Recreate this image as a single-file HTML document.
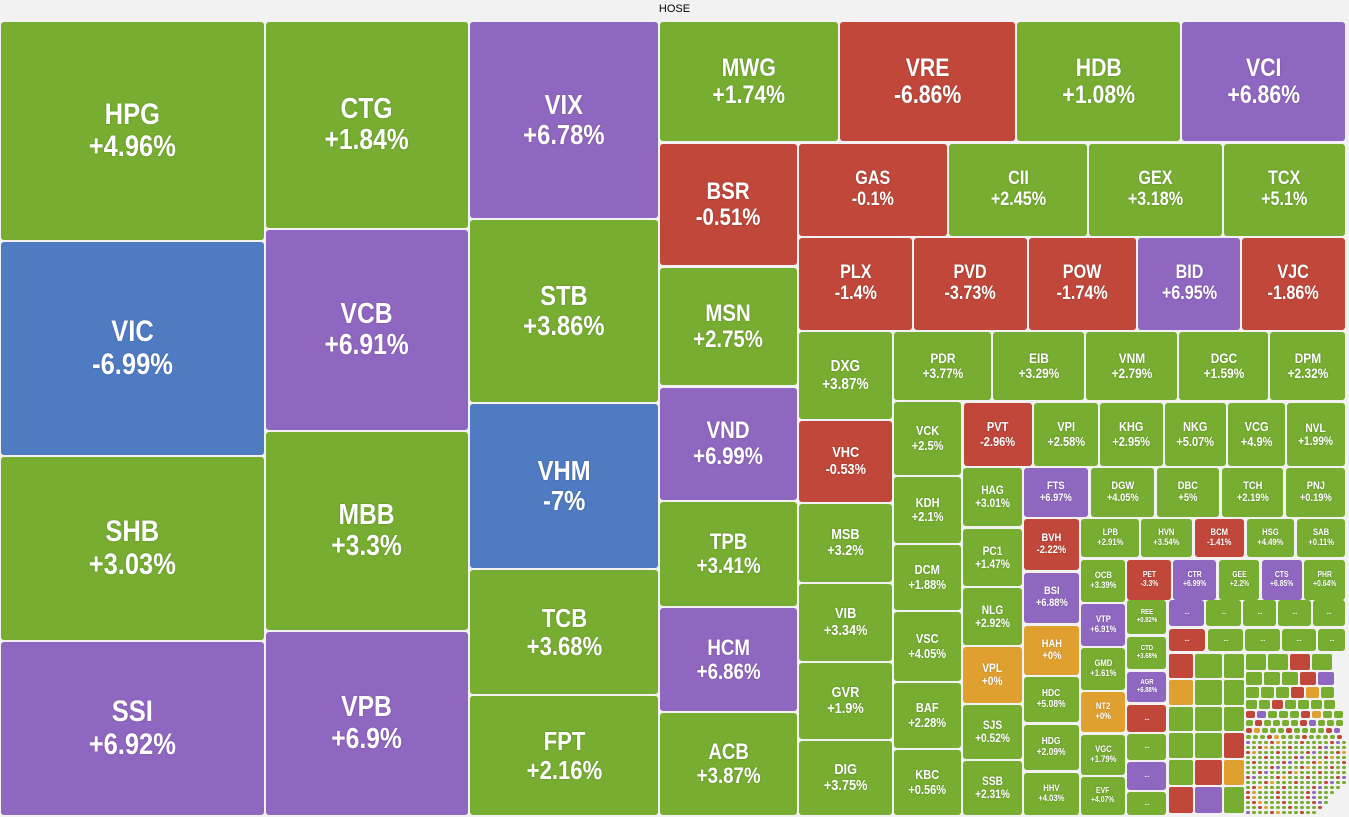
<!DOCTYPE html>
<html><head><meta charset="utf-8"><style>
body{margin:0;width:1349px;height:817px;background:#f2f2f2;position:relative;overflow:hidden;font-family:"Liberation Sans",Arial,sans-serif}
.h{position:absolute;left:0;top:3px;width:1349px;text-align:center;font-size:11px;color:#000}
.t{position:absolute;box-sizing:border-box;border-radius:3px;display:flex;align-items:center;justify-content:center;text-align:center;color:#fff;font-weight:bold;line-height:1.08;text-shadow:0 0 2px rgba(0,0,0,.25)}
.t span{display:inline-block;transform:scaleX(0.85);white-space:nowrap}
.g{background:#77ad31}.p{background:#9067c0}.r{background:#c0473a}.b{background:#4f7bc2}.o{background:#e0a030}
</style></head><body>
<div class="h">HOSE</div>
<div class="t g" style="left:1px;top:22px;width:263px;height:218px;font-size:30px">HPG<br>+4.96%</div>
<div class="t b" style="left:1px;top:242px;width:263px;height:213px;font-size:30px">VIC<br>-6.99%</div>
<div class="t g" style="left:1px;top:457px;width:263px;height:183px;font-size:30px">SHB<br>+3.03%</div>
<div class="t p" style="left:1px;top:642px;width:263px;height:173px;font-size:30px">SSI<br>+6.92%</div>
<div class="t g" style="left:266px;top:22px;width:202px;height:206px;font-size:29px">CTG<br>+1.84%</div>
<div class="t p" style="left:266px;top:230px;width:202px;height:200px;font-size:29px">VCB<br>+6.91%</div>
<div class="t g" style="left:266px;top:432px;width:202px;height:198px;font-size:29px">MBB<br>+3.3%</div>
<div class="t p" style="left:266px;top:632px;width:202px;height:183px;font-size:29px">VPB<br>+6.9%</div>
<div class="t p" style="left:470px;top:22px;width:188px;height:196px;font-size:28px">VIX<br>+6.78%</div>
<div class="t g" style="left:470px;top:220px;width:188px;height:182px;font-size:28px">STB<br>+3.86%</div>
<div class="t b" style="left:470px;top:404px;width:188px;height:164px;font-size:28px">VHM<br>-7%</div>
<div class="t g" style="left:470px;top:570px;width:188px;height:124px;font-size:26px">TCB<br>+3.68%</div>
<div class="t g" style="left:470px;top:696px;width:188px;height:119px;font-size:26px">FPT<br>+2.16%</div>
<div class="t g" style="left:660px;top:22px;width:178px;height:119px;font-size:25px">MWG<br>+1.74%</div>
<div class="t r" style="left:840px;top:22px;width:175px;height:119px;font-size:25px">VRE<br>-6.86%</div>
<div class="t g" style="left:1017px;top:22px;width:163px;height:119px;font-size:25px">HDB<br>+1.08%</div>
<div class="t p" style="left:1182px;top:22px;width:163px;height:119px;font-size:25px">VCI<br>+6.86%</div>
<div class="t r" style="left:660px;top:144px;width:137px;height:121px;font-size:24px">BSR<br>-0.51%</div>
<div class="t g" style="left:660px;top:268px;width:137px;height:117px;font-size:24px">MSN<br>+2.75%</div>
<div class="t p" style="left:660px;top:388px;width:137px;height:112px;font-size:24px">VND<br>+6.99%</div>
<div class="t g" style="left:660px;top:502px;width:137px;height:104px;font-size:22px">TPB<br>+3.41%</div>
<div class="t p" style="left:660px;top:608px;width:137px;height:103px;font-size:22px">HCM<br>+6.86%</div>
<div class="t g" style="left:660px;top:713px;width:137px;height:102px;font-size:22px">ACB<br>+3.87%</div>
<div class="t r" style="left:799px;top:144px;width:148px;height:92px;font-size:19px">GAS<br>-0.1%</div>
<div class="t g" style="left:949px;top:144px;width:138px;height:92px;font-size:19px">CII<br>+2.45%</div>
<div class="t g" style="left:1089px;top:144px;width:133px;height:92px;font-size:19px">GEX<br>+3.18%</div>
<div class="t g" style="left:1224px;top:144px;width:121px;height:92px;font-size:19px">TCX<br>+5.1%</div>
<div class="t r" style="left:799px;top:238px;width:113px;height:92px;font-size:19px">PLX<br>-1.4%</div>
<div class="t r" style="left:914px;top:238px;width:113px;height:92px;font-size:19px">PVD<br>-3.73%</div>
<div class="t r" style="left:1029px;top:238px;width:107px;height:92px;font-size:19px">POW<br>-1.74%</div>
<div class="t p" style="left:1138px;top:238px;width:102px;height:92px;font-size:19px">BID<br>+6.95%</div>
<div class="t r" style="left:1242px;top:238px;width:103px;height:92px;font-size:19px">VJC<br>-1.86%</div>
<div class="t g" style="left:799px;top:332px;width:93px;height:87px;font-size:16px">DXG<br>+3.87%</div>
<div class="t r" style="left:799px;top:421px;width:93px;height:81px;font-size:15px">VHC<br>-0.53%</div>
<div class="t g" style="left:799px;top:504px;width:93px;height:78px;font-size:15px">MSB<br>+3.2%</div>
<div class="t g" style="left:799px;top:584px;width:93px;height:77px;font-size:15px">VIB<br>+3.34%</div>
<div class="t g" style="left:799px;top:663px;width:93px;height:76px;font-size:15px">GVR<br>+1.9%</div>
<div class="t g" style="left:799px;top:741px;width:93px;height:74px;font-size:15px">DIG<br>+3.75%</div>
<div class="t g" style="left:894px;top:332px;width:97px;height:68px;font-size:14px">PDR<br>+3.77%</div>
<div class="t g" style="left:993px;top:332px;width:91px;height:68px;font-size:14px">EIB<br>+3.29%</div>
<div class="t g" style="left:1086px;top:332px;width:91px;height:68px;font-size:14px">VNM<br>+2.79%</div>
<div class="t g" style="left:1179px;top:332px;width:89px;height:68px;font-size:14px">DGC<br>+1.59%</div>
<div class="t g" style="left:1270px;top:332px;width:75px;height:68px;font-size:14px">DPM<br>+2.32%</div>
<div class="t g" style="left:894px;top:402px;width:67px;height:73px;font-size:13px">VCK<br>+2.5%</div>
<div class="t g" style="left:894px;top:477px;width:67px;height:66px;font-size:13px">KDH<br>+2.1%</div>
<div class="t g" style="left:894px;top:545px;width:67px;height:65px;font-size:13px">DCM<br>+1.88%</div>
<div class="t g" style="left:894px;top:612px;width:67px;height:69px;font-size:13px">VSC<br>+4.05%</div>
<div class="t g" style="left:894px;top:683px;width:67px;height:65px;font-size:13px">BAF<br>+2.28%</div>
<div class="t g" style="left:894px;top:750px;width:67px;height:65px;font-size:13px">KBC<br>+0.56%</div>
<div class="t r" style="left:964px;top:403px;width:68px;height:63px;font-size:13px">PVT<br>-2.96%</div>
<div class="t g" style="left:1034px;top:403px;width:64px;height:63px;font-size:13px">VPI<br>+2.58%</div>
<div class="t g" style="left:1100px;top:403px;width:63px;height:63px;font-size:13px">KHG<br>+2.95%</div>
<div class="t g" style="left:1165px;top:403px;width:61px;height:63px;font-size:13px">NKG<br>+5.07%</div>
<div class="t g" style="left:1228px;top:403px;width:57px;height:63px;font-size:13px">VCG<br>+4.9%</div>
<div class="t g" style="left:1287px;top:403px;width:58px;height:63px;font-size:12px">NVL<br>+1.99%</div>
<div class="t g" style="left:963px;top:468px;width:59px;height:58px;font-size:12px">HAG<br>+3.01%</div>
<div class="t g" style="left:963px;top:529px;width:59px;height:57px;font-size:12px">PC1<br>+1.47%</div>
<div class="t g" style="left:963px;top:588px;width:59px;height:57px;font-size:12px">NLG<br>+2.92%</div>
<div class="t o" style="left:963px;top:647px;width:59px;height:56px;font-size:12px">VPL<br>+0%</div>
<div class="t g" style="left:963px;top:705px;width:59px;height:54px;font-size:12px">SJS<br>+0.52%</div>
<div class="t g" style="left:963px;top:761px;width:59px;height:54px;font-size:12px">SSB<br>+2.31%</div>
<div class="t p" style="left:1024px;top:468px;width:64px;height:49px;font-size:11px">FTS<br>+6.97%</div>
<div class="t g" style="left:1091px;top:468px;width:63px;height:49px;font-size:11px">DGW<br>+4.05%</div>
<div class="t g" style="left:1157px;top:468px;width:62px;height:49px;font-size:11px">DBC<br>+5%</div>
<div class="t g" style="left:1222px;top:468px;width:61px;height:49px;font-size:11px">TCH<br>+2.19%</div>
<div class="t g" style="left:1286px;top:468px;width:59px;height:49px;font-size:11px">PNJ<br>+0.19%</div>
<div class="t r" style="left:1024px;top:519px;width:55px;height:51px;font-size:11px">BVH<br>-2.22%</div>
<div class="t p" style="left:1024px;top:573px;width:55px;height:50px;font-size:11px">BSI<br>+6.88%</div>
<div class="t o" style="left:1024px;top:626px;width:55px;height:49px;font-size:11px">HAH<br>+0%</div>
<div class="t g" style="left:1024px;top:677px;width:55px;height:45px;font-size:10px">HDC<br>+5.08%</div>
<div class="t g" style="left:1024px;top:725px;width:55px;height:45px;font-size:10px">HDG<br>+2.09%</div>
<div class="t g" style="left:1024px;top:773px;width:55px;height:42px;font-size:9px">HHV<br>+4.03%</div>
<div class="t g" style="left:1081px;top:519px;width:58px;height:38px;font-size:9px">LPB<br>+2.91%</div>
<div class="t g" style="left:1141px;top:519px;width:51px;height:38px;font-size:9px">HVN<br>+3.54%</div>
<div class="t r" style="left:1195px;top:519px;width:49px;height:38px;font-size:9px">BCM<br>-1.41%</div>
<div class="t g" style="left:1247px;top:519px;width:47px;height:38px;font-size:9px">HSG<br>+4.49%</div>
<div class="t g" style="left:1297px;top:519px;width:48px;height:38px;font-size:9px">SAB<br>+0.11%</div>
<div class="t g" style="left:1081px;top:560px;width:44px;height:42px;font-size:9px">OCB<br>+3.39%</div>
<div class="t p" style="left:1081px;top:604px;width:44px;height:42px;font-size:9px">VTP<br>+6.91%</div>
<div class="t g" style="left:1081px;top:648px;width:44px;height:42px;font-size:9px">GMD<br>+1.61%</div>
<div class="t o" style="left:1081px;top:692px;width:44px;height:40px;font-size:9px">NT2<br>+0%</div>
<div class="t g" style="left:1081px;top:735px;width:44px;height:40px;font-size:9px">VGC<br>+1.79%</div>
<div class="t g" style="left:1081px;top:777px;width:44px;height:38px;font-size:8px">EVF<br>+4.07%</div>
<div class="t r" style="left:1127px;top:560px;width:44px;height:40px;font-size:8px">PET<br>-3.3%</div>
<div class="t p" style="left:1173px;top:560px;width:43px;height:40px;font-size:8px">CTR<br>+6.99%</div>
<div class="t g" style="left:1219px;top:560px;width:40px;height:40px;font-size:8px">GEE<br>+2.2%</div>
<div class="t p" style="left:1262px;top:560px;width:40px;height:40px;font-size:8px">CTS<br>+6.85%</div>
<div class="t g" style="left:1304px;top:560px;width:41px;height:40px;font-size:8px">PHR<br>+0.64%</div>
<div class="t g" style="left:1127px;top:600px;width:39px;height:34px;font-size:7px">REE<br>+0.82%</div>
<div class="t g" style="left:1127px;top:637px;width:39px;height:32px;font-size:7px">CTD<br>+3.68%</div>
<div class="t p" style="left:1127px;top:672px;width:39px;height:30px;font-size:7px">AGR<br>+6.88%</div>
<div class="t r" style="left:1127px;top:705px;width:39px;height:27px;font-size:7px">...</div>
<div class="t g" style="left:1127px;top:734px;width:39px;height:26px;font-size:7px">...</div>
<div class="t p" style="left:1127px;top:762px;width:39px;height:28px;font-size:7px">...</div>
<div class="t g" style="left:1127px;top:792px;width:39px;height:23px;font-size:7px">...</div>
<div class="t p" style="left:1169px;top:600px;width:35px;height:26px;font-size:7px">...</div>
<div class="t g" style="left:1206px;top:600px;width:35px;height:26px;font-size:7px">...</div>
<div class="t g" style="left:1243px;top:600px;width:33px;height:26px;font-size:7px">...</div>
<div class="t g" style="left:1278px;top:600px;width:33px;height:26px;font-size:7px">...</div>
<div class="t g" style="left:1313px;top:600px;width:32px;height:26px;font-size:7px">...</div>
<div class="t r" style="left:1169px;top:629px;width:36px;height:22px;font-size:7px">...</div>
<div class="t g" style="left:1208px;top:629px;width:35px;height:22px;font-size:7px">...</div>
<div class="t g" style="left:1245px;top:629px;width:35px;height:22px;font-size:7px">...</div>
<div class="t g" style="left:1282px;top:629px;width:34px;height:22px;font-size:7px">...</div>
<div class="t g" style="left:1318px;top:629px;width:27px;height:22px;font-size:7px">...</div>
<div id="tiny"></div>
<script>
(function(){
var all=document.querySelectorAll('.t');
for(var i=0;i<all.length;i++){if(all[i].innerHTML)all[i].innerHTML='<span>'+all[i].innerHTML+'</span>';}
var c=document.getElementById('tiny'),h='';
var cols=['g','g','g','r','g','p','g','g','r','g','o','g','g','r','g'];
var k=0;
function cell(x,y,w,hh){var cl=cols[(k*7+3)%cols.length];k++;h+='<div class="t '+cl+'" style="left:'+x+'px;top:'+y+'px;width:'+w+'px;height:'+hh+'px;border-radius:2px"></div>';}
var ys=[654,680,707,733,760,787];
var xs=[[1169,24],[1195,27],[1224,20]];
for(var i=0;i<xs.length;i++)for(var j=0;j<6;j++)cell(xs[i][0],ys[j],xs[i][1],(j<5?ys[j+1]:815)-ys[j]-2);
var yy=654, w=20, hh=16;
while(yy<812){
 var xend=1347-Math.max(0,(yy-780))*0.9;
 for(var xx=1246;xx+w<=xend;xx+=w+2)cell(xx,yy,w,hh);
 yy+=hh+2;
 w=Math.max(4,Math.round(w*0.82)); hh=Math.max(3,Math.round(hh*0.82));
}
c.innerHTML=h;
})();
</script>
</body></html>
